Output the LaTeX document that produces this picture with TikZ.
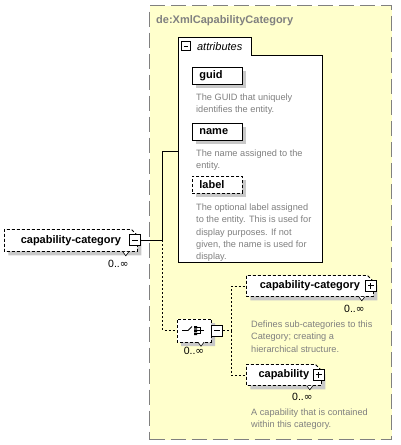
\documentclass[tikz,border=0pt]{standalone}
\usepackage{fontspec}
\setmainfont{Liberation Sans}
\newfontfamily\symfont{DejaVu Sans}
\usetikzlibrary{calc,positioning,shapes.misc,shadows}
\definecolor{xsdyellow}{HTML}{FFFFCC}
\definecolor{xsdgray}{HTML}{808080}
\definecolor{xsdshade}{HTML}{C8C8C8}
\newcommand{\unbounded}{0..{\symfont ∞}}

\begin{document}
\begin{tikzpicture}[
    x=1pt, y=-1pt,
    boxshadow/.style={drop shadow={fill=xsdshade,opacity=1,
        shadow xshift=4pt,shadow yshift=-4pt}},
    typebox/.style={draw=xsdgray,fill=xsdyellow,line width=1.2pt,
      dash pattern=on 15pt off 6pt,inner sep=0pt},
    typetitle/.style={font=\fontsize{11pt}{13pt}\selectfont\bfseries,
      text=xsdgray,inner sep=0pt,anchor=north west},
    element/.style={draw,fill=white,boxshadow,line width=0.8pt,
      dash pattern=on 3pt off 2pt,chamfered rectangle,
      chamfered rectangle corners=north east,
      chamfered rectangle xsep=3pt,chamfered rectangle ysep=3pt,
      font=\fontsize{11pt}{13pt}\selectfont\bfseries,inner sep=0pt,
      anchor=north west},
    attribute/.style={draw,fill=white,boxshadow,line width=0.8pt,
      minimum height=17pt,text width=36pt,inner xsep=7pt,inner ysep=0pt,
      align=left,font=\fontsize{11pt}{13pt}\selectfont\bfseries,
      anchor=north west},
    optional/.style={dash pattern=on 3pt off 2pt},
    compositor/.style={draw,fill=white,boxshadow,line width=0.8pt,
      dash pattern=on 3pt off 2pt,chamfered rectangle,
      chamfered rectangle xsep=5pt,chamfered rectangle ysep=5pt,
      inner sep=0pt},
    iconbox/.style={draw,fill=white,line width=0.9pt,minimum size=11pt,
      inner sep=0pt},
    minusicon/.style={iconbox,path picture={
        \draw[line width=0.9pt]
          ([xshift=2.5pt]path picture bounding box.west) --
          ([xshift=-2.5pt]path picture bounding box.east);}},
    plusicon/.style={iconbox,path picture={
        \draw[line width=0.9pt]
          ([xshift=2.5pt]path picture bounding box.west) --
          ([xshift=-2.5pt]path picture bounding box.east)
          ([yshift=2.5pt]path picture bounding box.south) --
          ([yshift=-2.5pt]path picture bounding box.north);}},
    desc/.style={font=\fontsize{9.2pt}{12.3pt}\selectfont,text=xsdgray,
      align=left,inner sep=0pt},
    card/.style={font=\fontsize{10.5pt}{12pt}\selectfont,inner sep=0pt},
    tree/.style={line width=0.8pt},
    optline/.style={tree,dash pattern=on 2pt off 2pt},
    notch/.style={fill=white,draw,line width=0.6pt}
  ]
  \useasboundingbox (0,0) rectangle (401,445);

  % complex type frame
  \node[typebox,minimum width=242pt,minimum height=434pt,anchor=north west]
    (type) at (149,5) {};
  \node[typetitle] (typename) at (156,15) {de:XmlCapabilityCategory};

  % attributes group
  \node[inner sep=0pt,minimum width=144pt,minimum height=207pt,
    anchor=north west] (attr) at (178,55) {};
  \node[inner sep=0pt,minimum width=73pt,minimum height=17pt,
    anchor=south west] (tab) at (attr.north west) {};
  \draw[tree,fill=white] (attr.south west) -- (tab.north west)
    -- (tab.north east) -- (tab.south east) -- (attr.north east)
    -- (attr.south east) -- cycle;
  \node[minusicon,minimum size=9pt,right=3pt of tab.west] (attricon) {};
  \node[font=\fontsize{11pt}{13pt}\selectfont\itshape,inner sep=0pt,
    right=6pt of attricon] (attrname) {attributes};

  \node[attribute] (guid) at (192,67) {guid};
  \node[desc,below right=9pt and 4pt of guid.south west] (guiddesc)
    {The GUID that uniquely\\identifies the entity.};
  \node[attribute] (name) at (192,123) {name};
  \node[desc,below right=9pt and 4pt of name.south west] (namedesc)
    {The name assigned to the\\entity.};
  \node[attribute,optional] (label) at (192,176) {label};
  \node[desc,below right=10pt and 4pt of label.south west] (labeldesc)
    {The optional label assigned\\to the entity. This is used for\\display
     purposes. If not\\given, the name is used for\\display.};

  % root element
  \node[element,minimum width=133pt,minimum height=22pt] (cc) at (4,229)
    {capability-category};
  \node[minusicon] (ccicon) at ([xshift=-3pt]cc.east) {};
  \draw[notch] ([xshift=-15pt]cc.south east) -- ++(3,4) -- ++(3,-4);
  \node[card,below left=8pt and 9pt of cc.south east] (cccard) {\unbounded};

  % sequence
  \node[compositor,minimum width=34pt,minimum height=23pt] (seq)
    at (194,330.5) {};
  \begin{scope}[shift={(seq.center)}]
    \draw[tree] (-12,0) -- (-6,0) -- (-2,-4);
    \fill (0,-4.5) rectangle ++(3,2.5) (0,-1.25) rectangle ++(3,2.5)
      (0,2) rectangle ++(3,2.5);
    \draw[tree] (3,-3.25) -| (6,3.25) -- (3,3.25) (3,0) -- (10,0);
  \end{scope}
  \node[minusicon,right=0pt of seq] (seqicon) {};
  \draw[notch] ([xshift=-13pt]seq.south east) -- ++(3,4) -- ++(3,-4);
  \node[card,below=5pt of seq.south] (seqcard) {\unbounded};

  % child elements
  \node[element,minimum width=127pt,minimum height=21pt] (subcc)
    at (246,275) {capability-category};
  \node[plusicon] (subccicon) at ([xshift=-3pt]subcc.east) {};
  \draw[notch] ([xshift=-15pt]subcc.south east) -- ++(3,4) -- ++(3,-4);
  \node[card,below left=8pt and 9pt of subcc.south east] (subcccard)
    {\unbounded};
  \node[desc,below right=24pt and 5pt of subcc.south west] (subccdesc)
    {Defines sub-categories to this\\Category; creating a\\hierarchical
     structure.};

  \node[element,minimum width=75pt,minimum height=21pt] (cap)
    at (246,364) {capability};
  \node[plusicon] (capicon) at ([xshift=-3pt]cap.east) {};
  \draw[notch] ([xshift=-15pt]cap.south east) -- ++(3,4) -- ++(3,-4);
  \node[card,below left=7pt and 9pt of cap.south east] (capcard)
    {\unbounded};
  \node[desc,below right=23pt and 5pt of cap.south west] (capdesc)
    {A capability that is contained\\within this category.};

  % connectors
  \coordinate (fork) at ($(ccicon.east)+(22,0)$);
  \coordinate (attrin) at ($(attr.north west)+(0,96)$);
  \draw[tree] (ccicon.east) -- (fork) |- (attrin);
  \draw[optline] (fork) |- (seq.west);
  \coordinate (seqfork) at ($(seqicon.east)+(8,0)$);
  \draw[optline] (seqicon.east) -- (seqfork);
  \draw[optline] (seqfork) |- (subcc.west);
  \draw[optline] (seqfork) |- (cap.west);
\end{tikzpicture}
\end{document}
